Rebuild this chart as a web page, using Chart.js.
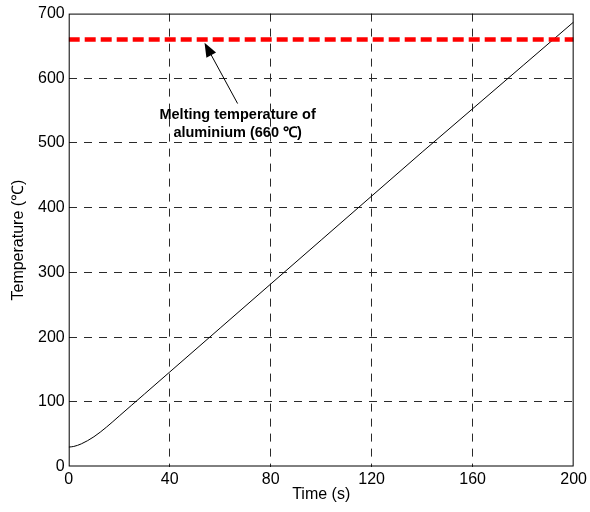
<!DOCTYPE html>
<html>
<head>
<meta charset="utf-8">
<script src="https://cdn.jsdelivr.net/npm/chart.js@4/dist/chart.umd.min.js"></script>
<style>
  html, body { margin: 0; padding: 0; background: #fff; }
  canvas { display: block; }
</style>
</head>
<body>
<canvas id="tempChart" width="590" height="512"></canvas>
<script>
// heating curve, time in s, temperature in degC
const times = [0, 2, 5, 10, 15, 20, 25, 30, 40, 60, 80, 100, 120, 140, 160, 180, 200];
const temps = [30, 31, 35, 46, 61, 78, 95, 112, 146, 214, 282, 350, 418, 486, 553, 620, 687];

// melting point of aluminium
const meltTemp = 660;
const meltRange = [0, 200];

const xTicks = [0, 40, 80, 120, 160, 200];
const yTicks = [0, 100, 200, 300, 400, 500, 600, 700];

// callout text and arrow, in data units
const noteLines = ['Melting temperature of', 'aluminium (660 \u2103)'];
const noteAt = { x: 66.9, y: [544, 516] };
const arrowFrom = { x: 66.9, y: 561 };
const arrowTo = { x: 53.8, y: 655 };

const FONT = "'Liberation Sans', Arial, sans-serif";

const frame = {
    id: 'frame',
    afterDraw(chart) {
        const { ctx, chartArea: a, scales } = chart;
        ctx.save();
        ctx.strokeStyle = '#000';
        ctx.lineWidth = 1;
        ctx.setLineDash([]);
        ctx.strokeRect(a.left + 0.5, a.top + 0.5, a.right - a.left - 1, a.bottom - a.top - 1);

        // callout
        const x = scales.x, y = scales.y;
        ctx.fillStyle = '#000';
        ctx.font = 'bold 14.5px ' + FONT;
        ctx.textAlign = 'center';
        ctx.textBaseline = 'middle';
        noteLines.forEach((t, i) => ctx.fillText(t, x.getPixelForValue(noteAt.x), y.getPixelForValue(noteAt.y[i])));

        const x0 = x.getPixelForValue(arrowFrom.x), y0 = y.getPixelForValue(arrowFrom.y);
        const x1 = x.getPixelForValue(arrowTo.x), y1 = y.getPixelForValue(arrowTo.y);
        const ang = Math.atan2(y1 - y0, x1 - x0);
        const len = 14, half = 5.5;
        const bx = x1 - len * Math.cos(ang), by = y1 - len * Math.sin(ang);
        ctx.beginPath();
        ctx.moveTo(x0, y0);
        ctx.lineTo(bx, by);
        ctx.stroke();
        ctx.beginPath();
        ctx.moveTo(x1, y1);
        ctx.lineTo(bx + half * Math.sin(ang), by - half * Math.cos(ang));
        ctx.lineTo(bx - half * Math.sin(ang), by + half * Math.cos(ang));
        ctx.closePath();
        ctx.fill();
        ctx.restore();
    }
};

const gridColor = ctx => (ctx.index === 0 || ctx.index === ctx.chart.scales[ctx.scale.id].ticks.length - 1) ? 'rgba(0,0,0,0)' : '#2a2a2a';

new Chart(document.getElementById('tempChart'), {
    type: 'line',
    data: {
        datasets: [{
            data: times.map((t, i) => ({ x: t, y: temps[i] })),
            borderColor: '#000',
            borderWidth: 1,
            pointRadius: 0,
            cubicInterpolationMode: 'monotone',
            order: 2
        }, {
            data: meltRange.map(t => ({ x: t, y: meltTemp })),
            borderColor: '#ff0000',
            borderWidth: 4.5,
            borderDash: [11, 5],
            pointRadius: 0,
            order: 1
        }]
    },
    options: {
        responsive: false,
        animation: false,
        layout: { padding: { top: 12, right: 15, left: 0, bottom: 0 } },
        plugins: { legend: { display: false }, tooltip: { enabled: false } },
        scales: {
            x: {
                type: 'linear',
                min: 0, max: 200,
                afterBuildTicks: s => { s.ticks = xTicks.map(v => ({ value: v })); },
                afterFit: s => { s.height = 45.5; },
                ticks: { color: '#000', font: { family: FONT, size: 16 }, padding: 3, maxRotation: 0 },
                grid: { color: gridColor, lineWidth: 1, drawTicks: false },
                border: { display: false, dash: [8, 7] },
                title: { display: true, text: 'Time (s)', color: '#000', font: { family: FONT, size: 16 }, padding: { top: 0, bottom: 8 } }
            },
            y: {
                min: 0, max: 700,
                afterBuildTicks: s => { s.ticks = yTicks.map(v => ({ value: v })); },
                afterFit: s => { s.width = 68.7; },
                ticks: { color: '#000', font: { family: FONT, size: 16 }, padding: 4 },
                grid: { color: gridColor, lineWidth: 1, drawTicks: false },
                border: { display: false, dash: [8, 7] },
                title: { display: true, text: 'Temperature (\u2103)', color: '#000', font: { family: FONT, size: 16 }, padding: { top: 9, bottom: 0 } }
            }
        }
    },
    plugins: [frame]
});
</script>
</body>
</html>
